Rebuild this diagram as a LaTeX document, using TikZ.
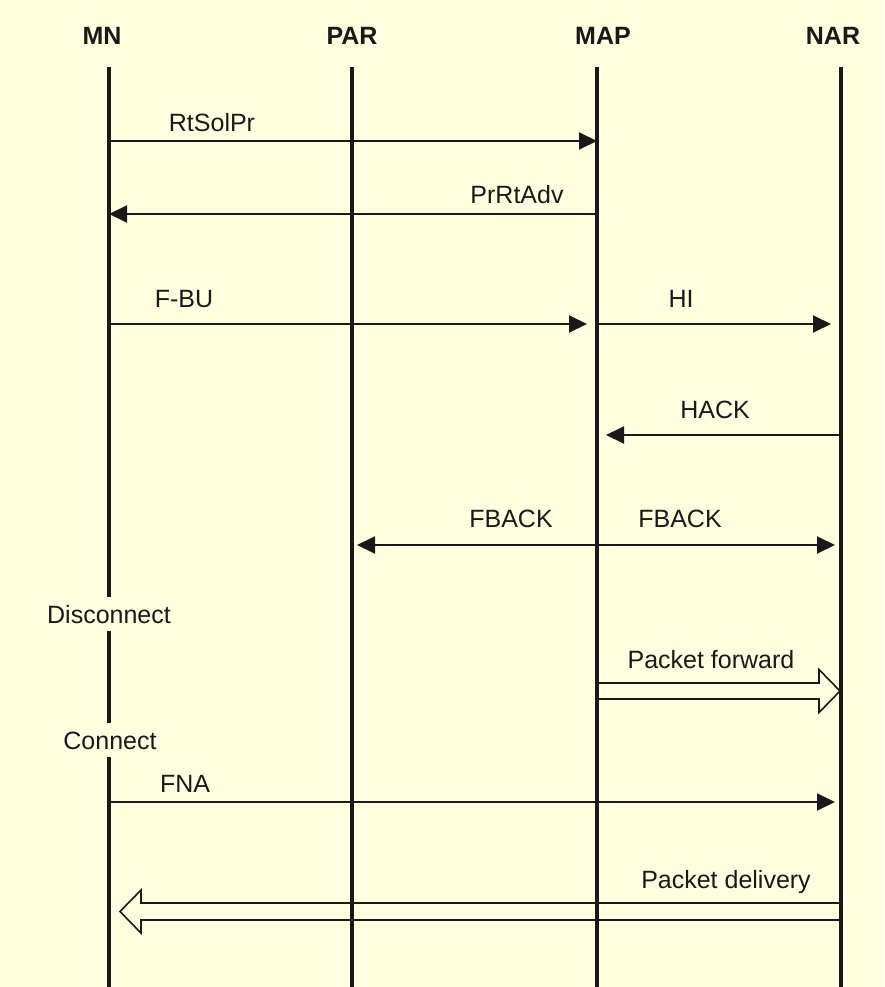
\documentclass[tikz,border=0pt]{standalone}
\usepackage{fontspec}
\setmainfont{Liberation Sans}
\usetikzlibrary{arrows.meta, positioning, calc}
\definecolor{paper}{RGB}{255, 255, 224}
\definecolor{ink}{RGB}{25, 25, 25}

\begin{document}
\begin{tikzpicture}[
          x=1pt, y=-1pt,
          head/.style={font=\fontsize{25}{30}\selectfont\bfseries, text=ink, inner sep=0pt, anchor=base},
          lbl/.style={font=\fontsize{25}{30}\selectfont, text=ink, inner sep=0pt, anchor=base},
          gaplbl/.style={lbl, inner ysep=8pt},
          life/.style={draw=ink, line width=3.2pt},
          msg/.style={draw=ink, line width=1.9pt, -{Triangle[length=18pt, width=17pt]}},
          msgboth/.style={msg, {Triangle[length=18pt, width=17pt]}-{Triangle[length=18pt, width=17pt]}},
          fat/.style={draw=ink, line width=1.6pt, line join=miter},
        ]
        \fill[paper] (0,0) rectangle (884,987);
        \useasboundingbox (0,0) rectangle (884,987);

        % lifelines
        \coordinate (mn-t)  at (109,67);
        \coordinate (par-t) at (352,67);
        \coordinate (map-t) at (597,67);
        \coordinate (nar-t) at (841,67);
        \coordinate (bot)   at (0,987);

        \node[head] (mn)  at (102,45) {MN};
        \node[head] (par) at (352,45) {PAR};
        \node[head] (map) at (603,45) {MAP};
        \node[head] (nar) at (833,45) {NAR};

        \node[gaplbl] (disc) at (109,623) {Disconnect};
        \node[gaplbl] (conn) at (110,749) {Connect};

        \draw[life] (mn-t) -- (mn-t |- disc.north);
        \draw[life] (mn-t |- disc.south) -- (mn-t |- conn.north);
        \draw[life] (mn-t |- conn.south) -- (mn-t |- bot);
        \draw[life] (par-t) -- (par-t |- bot);
        \draw[life] (map-t) -- (map-t |- bot);
        \draw[life] (nar-t) -- (nar-t |- bot);

        % message rows
        \coordinate (r1) at (0,141);
        \coordinate (r2) at (0,214);
        \coordinate (r3) at (0,324);
        \coordinate (r4) at (0,435);
        \coordinate (r5) at (0,545);
        \coordinate (r6) at (0,691);
        \coordinate (r7) at (0,802);
        \coordinate (r8) at (0,911.5);

        \draw[msg] (mn-t |- r1) -- (map-t |- r1);
        \node[lbl] (rtsol) at (212,132) {RtSolPr};

        \draw[msg] (map-t |- r2) -- (mn-t |- r2);
        \node[lbl] (prrt) at (517,204) {PrRtAdv};

        \draw[msg, shorten >=10pt] (mn-t |- r3) -- (map-t |- r3);
        \node[lbl] (fbu) at (184,307) {F-BU};
        \draw[msg, shorten >=10pt] (map-t |- r3) -- (nar-t |- r3);
        \node[lbl] (hi) at (681,307) {HI};

        \draw[msg, shorten >=9pt] (nar-t |- r4) -- (map-t |- r4);
        \node[lbl] (hack) at (715,418) {HACK};

        \draw[msgboth, shorten <=5pt, shorten >=6pt] (par-t |- r5) -- (nar-t |- r5);
        \node[lbl] (fback1) at (511,527) {FBACK};
        \node[lbl] (fback2) at (680,527) {FBACK};

        % packet forward
        \draw[fat] ($(map-t |- r6)+(0,-8)$) -- ($(nar-t |- r6)+(-22,-8)$)
          -- ($(nar-t |- r6)+(-22,-21.5)$) -- ($(nar-t |- r6)+(-1,0)$)
          -- ($(nar-t |- r6)+(-22,21.5)$) -- ($(nar-t |- r6)+(-22,8)$)
          -- ($(map-t |- r6)+(0,8)$);
        \node[lbl] (pfwd) at (711,668) {Packet forward};

        \draw[msg, shorten >=6pt] (mn-t |- r7) -- (nar-t |- r7);
        \node[lbl] (fna) at (185,792) {FNA};

        % packet delivery
        \draw[fat] ($(nar-t |- r8)+(0,-8.5)$) -- ($(mn-t |- r8)+(32,-8.5)$)
          -- ($(mn-t |- r8)+(32,-21.5)$) -- ($(mn-t |- r8)+(11,0)$)
          -- ($(mn-t |- r8)+(32,21.5)$) -- ($(mn-t |- r8)+(32,8.5)$)
          -- ($(nar-t |- r8)+(0,8.5)$);
        \node[lbl] (pdel) at (726,888) {Packet delivery};
      \end{tikzpicture}
\end{document}
